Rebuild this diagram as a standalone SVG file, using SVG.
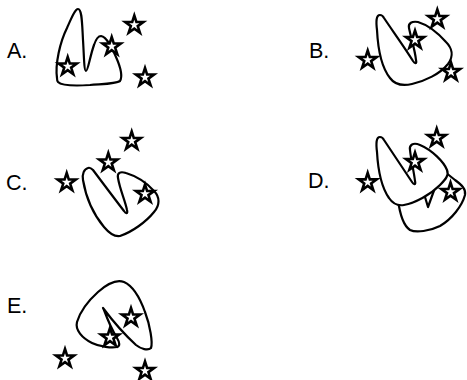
<svg xmlns="http://www.w3.org/2000/svg" xmlns:xlink="http://www.w3.org/1999/xlink" width="467" height="380" viewBox="0 0 467 380">
<style>
.lbl{font-family:"Liberation Sans",Arial,sans-serif;font-size:21.5px;fill:#000}
.shape{fill:#fff;stroke:#000;stroke-width:2.2;stroke-linejoin:round}
.star{fill:#fff;stroke:#000;stroke-width:2.6;stroke-linejoin:miter;stroke-miterlimit:10}
</style>
<defs>
<path id="star" class="star" d="M0,-9.5 L2.13,-2.94 L9.04,-2.94 L3.45,1.12 L5.58,7.69 L0,3.63 L-5.58,7.69 L-3.45,1.12 L-9.04,-2.94 L-2.13,-2.94 Z"/>
</defs>
<rect width="467" height="380" fill="#fff"/>

<g id="option-A">
<text class="lbl" x="7" y="57.5">A.</text>
<path class="shape" d="M57,78 C55,64 60,42 67,28 C71,19 75,9 78,9 C82,9 82,22 83,40 C84,55 84,71 86,71 C88,71 90,56 94,45 C96,39 98,36 101,36 C107,37 112,48 116,57 C120,66 123,76 120,81 C116,84 100,84 90,85 C75,86 62,86 58,82 C57,81 57,80 57,78 Z"/>
<use xlink:href="#star" x="67.7" y="66.5"/>
<use xlink:href="#star" x="111.7" y="46.5"/>
<use xlink:href="#star" x="134.3" y="25"/>
<use xlink:href="#star" x="145" y="77.5"/>
</g>

<g id="option-B">
<text class="lbl" x="309" y="57.5">B.</text>
<path class="shape" d="M380,15 C376,15 376,22 377,30 C378,50 382,68 390,78 C395,85 403,86 412,84 C425,81 440,74 448,64 C454,56 452,48 446,42 C438,33 428,25 418,22 C412,21 408,23 409,28 C411,38 415,50 416,60 C417,64 415,64 413,61 C405,48 392,30 384,18 C383,16 382,15 380,15 Z"/>
<use xlink:href="#star" x="367.7" y="60"/>
<use xlink:href="#star" x="415" y="40"/>
<use xlink:href="#star" x="437.3" y="19"/>
<use xlink:href="#star" x="451" y="72"/>
</g>

<g id="option-C">
<text class="lbl" x="6" y="189.5">C.</text>
<path class="shape" d="M88,168 C84,169 82,174 83,180 C86,198 94,215 104,227 C109,233 114,237 120,236 C132,232 146,222 154,212 C160,205 160,197 154,191 C146,182 136,176 126,173 C120,171 117,173 118,178 C120,190 125,200 127,210 C128,214 126,214 124,211 C114,198 102,182 93,170 C91,168 90,167 88,168 Z"/>
<use xlink:href="#star" x="66.7" y="182.5"/>
<use xlink:href="#star" x="108.3" y="162.5"/>
<use xlink:href="#star" x="131.7" y="141"/>
<use xlink:href="#star" x="145" y="194"/>
</g>

<g id="option-D">
<text class="lbl" x="308" y="188">D.</text>
<path class="shape" d="M398,200 C400,215 404,226 410,230 C416,233 430,231 440,226 C452,219 462,206 465,195 C466,189 462,185 455,180 L445,172 L436,185 L428,207 L422,187 L405,195 Z"/>
<path class="shape" d="M380,137 C376,137 376,144 377,152 C378,170 382,188 389,198 C393,204 398,206 404,205 C415,203 430,195 440,185 C446,179 449,175 447,170 C444,162 432,150 420,145 C413,142 409,145 410,150 C411,160 414,172 415,181 C416,185 414,185 412,182 C404,170 392,152 384,140 C383,138 382,137 380,137 Z"/>
<use xlink:href="#star" x="367.7" y="182.3"/>
<use xlink:href="#star" x="415" y="162"/>
<use xlink:href="#star" x="436.7" y="138"/>
<use xlink:href="#star" x="450.5" y="192"/>
</g>

<g id="option-E">
<text class="lbl" x="7" y="313">E.</text>
<path class="shape" d="M103,308 C112,320 125,335 136,345 C141,349 148,351 151,348 C153,343 150,325 145,312 C140,298 133,286 124,282 C116,279 107,284 98,292 C88,301 80,312 77,322 C75,330 82,338 92,343 C100,347 112,348 117,347 C120,346 120,343 117,338 C112,330 107,318 104,310 Z"/>
<use xlink:href="#star" x="110" y="337.5"/>
<use xlink:href="#star" x="131" y="317.5"/>
<use xlink:href="#star" x="65" y="358.5"/>
<use xlink:href="#star" x="145" y="371"/>
</g>
</svg>
